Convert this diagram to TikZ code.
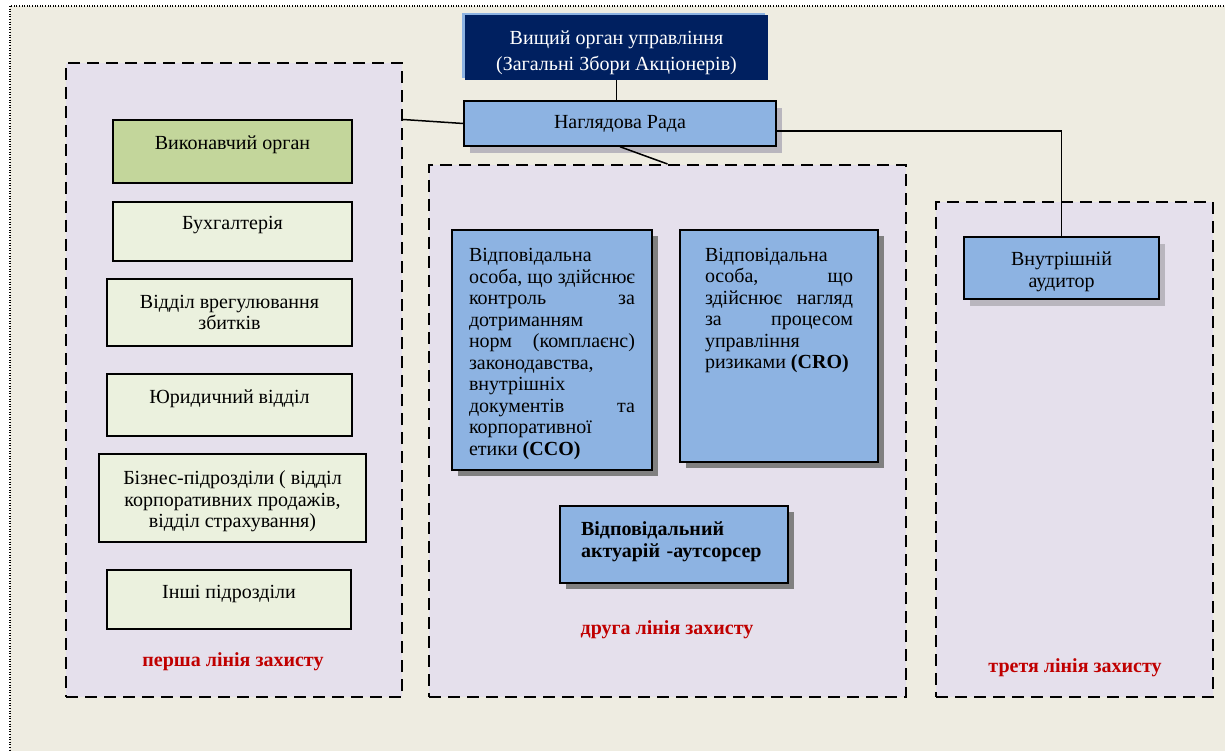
\documentclass[tikz,border=0pt]{standalone}
\usepackage{fontspec}
\setmainfont{Liberation Serif}
\usetikzlibrary{shadows}
\definecolor{beige}{HTML}{EEECE1}
\definecolor{lavender}{HTML}{E5E0EC}
\definecolor{olive}{HTML}{C3D69B}
\definecolor{palegreen}{HTML}{EBF1DE}
\definecolor{boxblue}{HTML}{8DB3E2}
\definecolor{navy}{HTML}{002060}
\definecolor{defred}{HTML}{C00000}
\definecolor{softshade}{HTML}{B9B6BE}
\definecolor{darkshade}{HTML}{808080}
\lineskiplimit=-6pt

\begin{document}
\begin{tikzpicture}[x=1pt,y=-1pt,line join=miter,
    font=\fontsize{20pt}{21.5pt}\selectfont,
    dims/.style 2 args={minimum width=#1pt,minimum height=#2pt},
    zone/.style={draw,fill=lavender,line width=2pt,dash pattern=on 12pt off 7pt,inner sep=0pt},
    unit/.style={draw,line width=1.5pt,fill=palegreen,align=center,inner sep=0pt},
    oneline/.style={text height=12pt,text depth=15pt},
    duty/.style={draw,line width=1.5pt,fill=boxblue,inner ysep=10pt,
        drop shadow={shadow xshift=6pt,shadow yshift=-6pt,fill=darkshade,opacity=1}},
    board/.style={draw,line width=1.5pt,fill=boxblue,align=center,inner sep=0pt,
        drop shadow={shadow xshift=6pt,shadow yshift=-7pt,fill=softshade,opacity=1}},
    tag/.style={text=defred,font=\fontsize{20pt}{21.5pt}\selectfont\bfseries},
    link/.style={draw,line width=1.5pt}]
    \useasboundingbox (0,0) rectangle (1225,751);
    \draw[fill=beige,line width=1.2pt,dash pattern=on 1pt off 1.6pt] (10,6) rectangle (1240,770);

    % lines of defence
    \node[zone,dims={336}{634}] (line1) at (234,380) {};
    \node[zone,dims={477}{532}] (line2) at (667.5,431) {};
    \node[zone,dims={277}{495}] (line3) at (1074.5,449.5) {};

    % governing bodies
    \node[fill=navy,text=white,align=center,inner sep=0pt,text height=50pt,dims={303}{65},
        drop shadow={shadow xshift=-3pt,shadow yshift=2pt,fill=boxblue,opacity=1}]
        (gov) at (616.5,47.5) {Вищий орган управління\\[4.5pt](Загальні Збори Акціонерів)};
    \node[board,dims={312}{45}] (nr) at (620,123.5) {Наглядова Рада};

    % first line
    \node[unit,oneline,fill=olive,dims={239}{63}] (exec) at (232.5,151.5) {Виконавчий орган};
    \node[unit,oneline,dims={239}{59}] (acct) at (232.5,231.5) {Бухгалтерія};
    \node[unit,dims={245}{67}] (claims) at (229.5,312.5) {Відділ врегулювання\\збитків};
    \node[unit,oneline,dims={245}{62}] (legal) at (229.5,405) {Юридичний відділ};
    \node[unit,text height=64pt,dims={267}{88}] (biz) at (232.5,498)
        {Бізнес-підрозділи ( відділ\\корпоративних продажів,\\відділ страхування)};
    \node[unit,oneline,dims={244}{59}] (other) at (229,599.5) {Інші підрозділи};
    \node[tag] (tag1) at (233,662) {перша лінія захисту};

    % second line
    \node[duty,align=justify,text width=166pt,inner xsep=17pt,text depth=190pt,dims={200}{240}] (cco) at (552,350)
        {Відповідальна\newline особа, що здійснює\linebreak контроль за\linebreak
        дотриманням\newline норм (комплаєнс)\linebreak законодавства,\newline
        внутрішніх\newline документів та\linebreak корпоративної\newline
        етики \textbf{(CCO)}};
    \node[duty,align=justify,text width=148pt,inner xsep=25pt,text depth=183pt,dims={198}{232}] (cro) at (779,346)
        {Відповідальна\newline особа, що\linebreak здійснює нагляд\linebreak
        за процесом\linebreak управління\newline ризиками \textbf{(CRO)}};
    \node[duty,align=left,text width=186pt,inner xsep=21pt,inner ysep=0pt,text depth=31pt,
        font=\fontsize{20pt}{21.5pt}\selectfont\bfseries,dims={228}{77}] (act) at (674,544.5)
        {Відповідальний\\актуарій -аутсорсер};
    \node[tag] (tag2) at (667,630) {друга лінія захисту};

    % third line
    \node[board,text height=43pt,dims={195}{62}] (aud) at (1061.5,268) {Внутрішній\\аудитор};
    \node[tag] (tag3) at (1075,668) {третя лінія захисту};

    % connectors
    \draw[link] (gov.south) -- (gov.south |- nr.north);
    \draw[link] (nr.west) -- ([yshift=4pt]line1.east |- nr.west);
    \draw[link] (nr.south) -- (line2.north);
    \draw[link] ([yshift=-7.5pt]nr.east) -| (aud.north);
\end{tikzpicture}
\end{document}
